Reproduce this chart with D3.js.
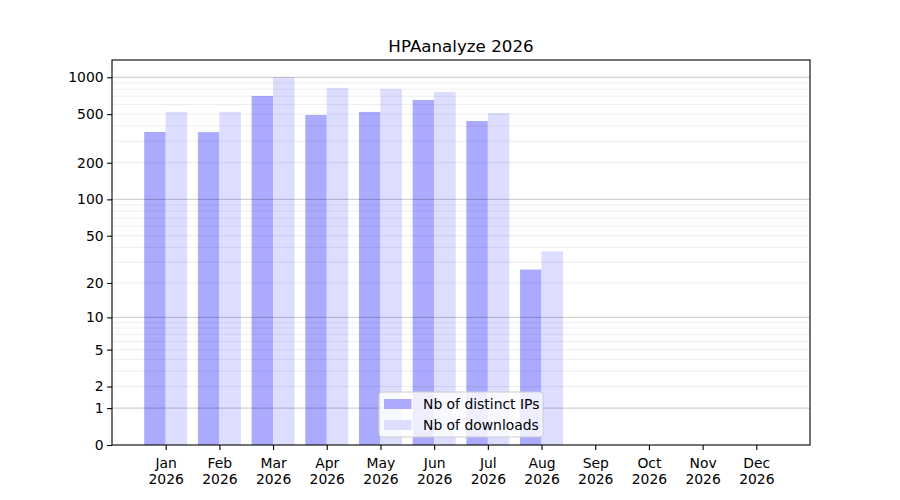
<!DOCTYPE html>
<html>
<head>
<meta charset="utf-8">
<script src="https://cdn.jsdelivr.net/npm/d3@7"></script>
<style>
  body { margin: 0; background: #fff; }
  svg text { font-family: "DejaVu Sans", sans-serif; }
</style>
</head>
<body>
<svg id="chart" width="900" height="500"></svg>
<script>
const months = ["Jan", "Feb", "Mar", "Apr", "May", "Jun", "Jul", "Aug", "Sep", "Oct", "Nov", "Dec"];
const yearLabel = "2026";
const distinctIPs = [357, 356, 704, 492, 521, 653, 439, 26];
const downloads = [521, 521, 1000, 818, 803, 759, 511, 37];
const yTickValues = [0, 1, 2, 5, 10, 20, 50, 100, 200, 500, 1000];
const majorGrid = [1, 10, 100, 1000];
const minorGrid = [2,3,4,5,6,7,8,9,20,30,40,50,60,70,80,90,200,300,400,500,600,700,800,900];
const seriesNames = ["Nb of distinct IPs", "Nb of downloads"];
const chartTitle = "HPAanalyze 2026";

const svg = d3.select("#chart");
const mLeft = 112, mRight = 810, mTop = 60, mBottom = 445;

const x = d3.scaleLinear().domain([-1, 12]).range([mLeft, mRight]);
const y = d3.scaleSymlog().constant(1).domain([0, 1384]).range([mBottom, mTop]);
const barW = 0.4;

// bars
svg.append("g").selectAll("rect").data(distinctIPs).join("rect")
  .attr("x", (d, i) => x(i - barW)).attr("width", (d, i) => x(i) - x(i - barW))
  .attr("y", d => y(d)).attr("height", d => y(0) - y(d))
  .attr("fill", "#aaaaff");
svg.append("g").selectAll("rect").data(downloads).join("rect")
  .attr("x", (d, i) => x(i)).attr("width", (d, i) => x(i + barW) - x(i))
  .attr("y", d => y(d)).attr("height", d => y(0) - y(d))
  .attr("fill", "#ddddff");

// grid
svg.append("g").selectAll("line").data(minorGrid).join("line")
  .attr("x1", mLeft).attr("x2", mRight)
  .attr("y1", d => y(d)).attr("y2", d => y(d))
  .attr("stroke", "#000").attr("stroke-opacity", 0.07).attr("stroke-width", 1);
svg.append("g").selectAll("line").data(majorGrid).join("line")
  .attr("x1", mLeft).attr("x2", mRight)
  .attr("y1", d => y(d)).attr("y2", d => y(d))
  .attr("stroke", "#000").attr("stroke-opacity", 0.22).attr("stroke-width", 1);

// y axis
const yAxis = svg.append("g").attr("transform", `translate(${mLeft},0)`)
  .call(d3.axisLeft(y).tickValues(yTickValues).tickFormat(d3.format("d")).tickSize(4.9).tickPadding(3.5));
yAxis.select(".domain").remove();
yAxis.selectAll("text").attr("font-size", "13.9px").attr("fill", "#000");
yAxis.selectAll("line").attr("stroke", "#000").attr("stroke-width", 1.1);

// x axis
const xAxis = svg.append("g").attr("transform", `translate(0,${mBottom})`)
  .call(d3.axisBottom(x).tickValues(d3.range(months.length)).tickFormat(i => months[i]).tickSize(4.9).tickPadding(8));
xAxis.select(".domain").remove();
xAxis.selectAll("line").attr("stroke", "#000").attr("stroke-width", 1.1);
xAxis.selectAll("text").attr("font-size", "13.9px").attr("fill", "#000")
  .each(function(i) {
    const t = d3.select(this);
    t.text(null);
    t.append("tspan").attr("x", 0).attr("dy", "0.71em").text(months[i]);
    t.append("tspan").attr("x", 0).attr("dy", "1.15em").text(yearLabel);
  })
  .attr("dy", null);

// frame
svg.append("rect").attr("x", mLeft).attr("y", mTop).attr("width", mRight - mLeft).attr("height", mBottom - mTop)
  .attr("fill", "none").attr("stroke", "#000").attr("stroke-width", 1.1);

// title
svg.append("text").attr("x", (mLeft + mRight) / 2).attr("y", 52).attr("text-anchor", "middle")
  .attr("font-size", "16.7px").attr("fill", "#000").text(chartTitle);

// legend
const lg = svg.append("g");
lg.append("rect").attr("x", 379).attr("y", 392).attr("width", 164).attr("height", 45)
  .attr("rx", 3).attr("fill", "#fff").attr("fill-opacity", 0.8).attr("stroke", "#cccccc").attr("stroke-width", 1);
const colors = ["#aaaaff", "#ddddff"];
seriesNames.forEach((name, k) => {
  const cy = 404 + k * 21;
  lg.append("rect").attr("x", 384).attr("y", cy - 5).attr("width", 27.5).attr("height", 10).attr("fill", colors[k]);
  lg.append("text").attr("x", 423).attr("y", cy).attr("dy", "0.35em")
    .attr("font-size", "13.9px").attr("fill", "#000").text(name);
});
</script>
</body>
</html>
